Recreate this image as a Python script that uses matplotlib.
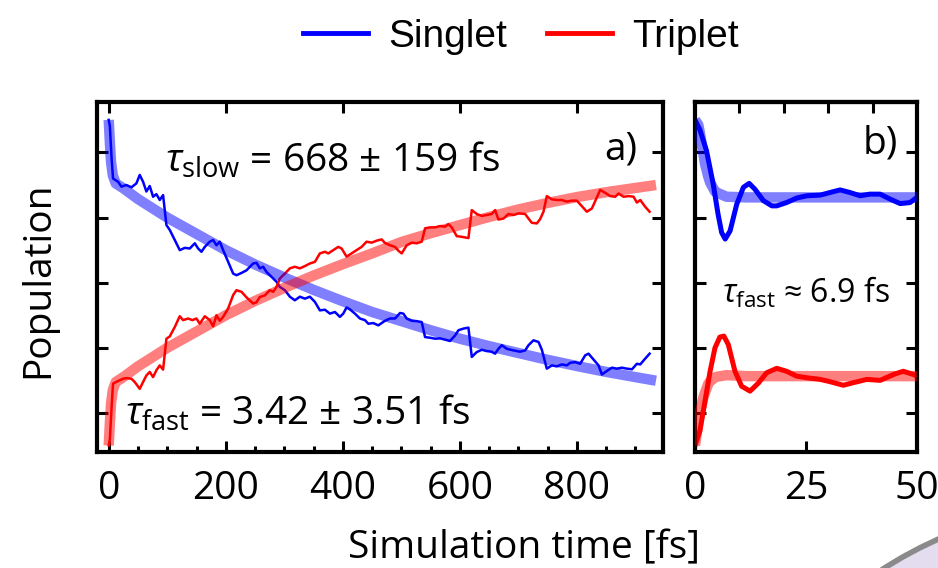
import matplotlib
matplotlib.use("Agg")
import matplotlib.pyplot as plt
from matplotlib.lines import Line2D
from matplotlib.patches import Circle

# ---- data ----
# panel a) long simulation, noisy populations
singlet_t = [0, 2, 5, 7.4, 16.0, 21.7, 30.2, 38.8, 47.3, 53.0, 58.7, 64.4, 70.1, 75.8,
             81.5, 87.2, 92.9, 98.6, 104.3, 112.9, 121.4, 130.0, 138.5, 147.1, 152.8,
             158.5, 164.2, 172.7, 178.4, 184.1, 189.8, 195.5, 204.1, 212.6, 218.3, 226.9,
             235.4, 246.8, 252.5, 258.2, 263.9, 269.6, 281, 286.7, 292.4, 301, 309.5, 318,
             326.6, 335.2, 343.7, 352.3, 360.8, 369.4, 377.9, 386.5, 395, 400.7, 406.4,
             412.1, 420.7, 429.2, 437.8, 443.5, 452, 460.6, 472, 480.6, 489.2, 497.7,
             503.4, 509.1, 517.7, 526, 534.8, 540.5, 549, 557.6, 566.1, 574.7, 583.2,
             591.8, 597.5, 606, 614.6, 620.3, 628.8, 637.4, 645.9, 654, 660.2, 665.9,
             671.6, 680.1, 691.5, 702.9, 711.5, 717.2, 725.7, 734.3, 740, 748.5, 757.1,
             765.6, 774.2, 782.7, 788.4, 797, 805.5, 814.1, 819.8, 828.3, 836.9, 842.6,
             851.1, 859.7, 868.2, 876.8, 885.3, 894, 902.4, 908.1, 916.7, 924.1]
singlet_pop = [1.0, 0.98, 0.88, 0.82, 0.810, 0.795, 0.800, 0.793, 0.805, 0.831, 0.810,
               0.780, 0.797, 0.764, 0.772, 0.754, 0.769, 0.677, 0.662, 0.631, 0.600, 0.607,
               0.605, 0.621, 0.605, 0.595, 0.610, 0.626, 0.631, 0.615, 0.626, 0.600, 0.564,
               0.528, 0.523, 0.530, 0.538, 0.559, 0.561, 0.544, 0.549, 0.533, 0.513, 0.503,
               0.487, 0.477, 0.457, 0.446, 0.457, 0.451, 0.457, 0.441, 0.415, 0.417, 0.405,
               0.410, 0.395, 0.405, 0.424, 0.418, 0.405, 0.390, 0.385, 0.374, 0.376, 0.369,
               0.383, 0.390, 0.390, 0.407, 0.405, 0.390, 0.383, 0.382, 0.379, 0.333, 0.331,
               0.328, 0.329, 0.325, 0.321, 0.338, 0.354, 0.359, 0.362, 0.272, 0.287, 0.294,
               0.290, 0.288, 0.282, 0.297, 0.308, 0.297, 0.292, 0.288, 0.292, 0.308, 0.323,
               0.318, 0.294, 0.236, 0.246, 0.243, 0.249, 0.246, 0.254, 0.256, 0.251, 0.277,
               0.282, 0.264, 0.246, 0.218, 0.229, 0.239, 0.236, 0.239, 0.236, 0.234, 0.251,
               0.249, 0.267, 0.282]

triplet_t = [0, 2, 5, 7.4, 16, 24.5, 31, 38.8, 44.5, 53, 58.7, 64.4, 70.1, 75.8, 81.5,
             87.2, 92.9, 98.6, 104.3, 112.9, 121.4, 127.1, 135.7, 142.8, 149.9, 155.6,
             164.2, 172.7, 178.4, 184.1, 189.8, 195.5, 204.1, 212.6, 218.3, 226.9, 235.4,
             246.8, 252.5, 258.2, 266.8, 275.3, 281, 286.7, 292.4, 301, 309.5, 318, 326.6,
             335.2, 343.7, 352.3, 360.8, 369.4, 375.1, 383.6, 392.2, 397.9, 406.4, 415,
             423.5, 432.1, 440.6, 449.2, 457.7, 466.3, 472, 480.6, 489.2, 495, 500.6, 509.1,
             517.7, 526.2, 534.8, 540.5, 549, 557.6, 566.1, 574.7, 580.4, 586.1, 594.6,
             603.2, 614.6, 620.3, 628.8, 637.4, 645.9, 654.5, 660.2, 665.9, 674.4, 683,
             691.5, 700.1, 711.5, 717.2, 722.9, 731.4, 737, 742.8, 748.5, 757.1, 765.6,
             774.2, 782.7, 791, 799.8, 808.4, 816.9, 825.5, 834, 839.7, 848.3, 856.8, 865.4,
             871.1, 879.6, 888.2, 896.7, 902.4, 908.1, 916.7, 924.1]
triplet_pop = [0.0, 0.02, 0.12, 0.19, 0.198, 0.205, 0.207, 0.205, 0.195, 0.174, 0.195,
               0.215, 0.226, 0.210, 0.231, 0.246, 0.233, 0.328, 0.335, 0.364, 0.397, 0.385,
               0.390, 0.385, 0.390, 0.374, 0.397, 0.385, 0.366, 0.400, 0.383, 0.395, 0.421,
               0.462, 0.477, 0.472, 0.455, 0.436, 0.440, 0.456, 0.461, 0.477, 0.472, 0.487,
               0.513, 0.528, 0.544, 0.549, 0.544, 0.551, 0.559, 0.564, 0.590, 0.595, 0.590,
               0.600, 0.610, 0.605, 0.580, 0.590, 0.600, 0.610, 0.626, 0.623, 0.629, 0.633,
               0.622, 0.615, 0.610, 0.598, 0.590, 0.615, 0.623, 0.621, 0.626, 0.667, 0.670,
               0.670, 0.674, 0.672, 0.680, 0.670, 0.643, 0.641, 0.637, 0.723, 0.711, 0.705,
               0.708, 0.711, 0.723, 0.694, 0.697, 0.711, 0.708, 0.713, 0.711, 0.697, 0.684,
               0.682, 0.695, 0.718, 0.766, 0.756, 0.754, 0.754, 0.749, 0.752, 0.752, 0.735,
               0.718, 0.728, 0.762, 0.785, 0.776, 0.766, 0.764, 0.774, 0.764, 0.766, 0.764,
               0.746, 0.754, 0.733, 0.718]

# panel a) bi-exponential fits
fit_t = [0, 2, 4, 7, 12, 25, 50, 100, 150, 200, 250, 300, 350, 400, 450, 500, 550, 600,
         650, 700, 750, 800, 850, 900, 935]
singlet_fit = [1.0, 0.93, 0.87, 0.83, 0.805, 0.79, 0.757, 0.70, 0.65, 0.60, 0.556, 0.516,
               0.478, 0.443, 0.41, 0.382, 0.354, 0.328, 0.305, 0.284, 0.263, 0.244, 0.226,
               0.21, 0.199]
triplet_fit = [0.0, 0.07, 0.13, 0.17, 0.195, 0.21, 0.243, 0.30, 0.35, 0.40, 0.444, 0.484,
               0.522, 0.557, 0.59, 0.625, 0.652, 0.677, 0.702, 0.725, 0.745, 0.763, 0.778,
               0.791, 0.80]

# panel b) first 50 fs
short_t = [0, 1.1, 2.6, 4.1, 5.2, 6.0, 6.8, 7.9, 9.4, 10.9, 12.2, 13.5, 15.4, 17.3, 18.4,
           20.6, 22.9, 25.2, 28.2, 30.4, 32.7, 34.9, 37.2, 39.4, 41.7, 43.9, 46.2, 48.4, 50]
short_singlet = [1.0, 0.97, 0.905, 0.803, 0.71, 0.654, 0.634, 0.659, 0.741, 0.793, 0.805,
                 0.787, 0.752, 0.736, 0.736, 0.746, 0.76, 0.767, 0.769, 0.777, 0.785,
                 0.777, 0.767, 0.772, 0.772, 0.757, 0.743, 0.746, 0.762]
short_t_trip = [0, 1.1, 2.25, 3.4, 4.5, 5.6, 6.5, 7.5, 9.0, 10.5, 12.4, 14.3, 16.1, 18.4,
                20.6, 22.9, 25.2, 28.2, 30.4, 33.4, 35.7, 38.7, 41.7, 44.7, 46.9, 49.2, 50]
short_triplet = [0.0, 0.045, 0.136, 0.228, 0.30, 0.333, 0.336, 0.31, 0.228, 0.182, 0.167,
                 0.192, 0.223, 0.237, 0.228, 0.213, 0.208, 0.203, 0.196, 0.185, 0.193,
                 0.203, 0.20, 0.218, 0.228, 0.218, 0.213]
short_fit_t = [0, 0.75, 1.1, 1.9, 2.25, 3.0, 3.4, 4.5, 4.9, 7.1, 11.6, 25, 50]
short_singlet_fit = [1.0, 0.985, 0.96, 0.895, 0.865, 0.825, 0.808, 0.78, 0.777, 0.764,
                     0.762, 0.762, 0.762]
short_triplet_fit = [0.0, 0.07, 0.10, 0.148, 0.162, 0.19, 0.197, 0.209, 0.211, 0.216,
                     0.213, 0.213, 0.213]

SANS = "Open Sans"
plt.rcParams["font.family"] = SANS
plt.rcParams["mathtext.fontset"] = "custom"
plt.rcParams["mathtext.rm"] = SANS
plt.rcParams["mathtext.it"] = SANS + ":italic"

BLUE = "#0000ff"
RED = "#ff0000"
FS = 28

fig = plt.figure(figsize=(9.38, 5.68), dpi=100)

# faint slide decoration in the bottom-right corner
fig.patches.append(Circle((1100, 568 - 905), 400, transform=None, facecolor="#e4dcef",
                          edgecolor="#8a8a8a", linewidth=4, zorder=0))

ax_a = fig.add_axes([97 / 938, 1 - 452 / 568, 566 / 938, 350 / 568])
ax_b = fig.add_axes([695 / 938, 1 - 452 / 568, 222 / 938, 350 / 568])

for ax in (ax_a, ax_b):
    ax.set_facecolor("white")
    ax.set_ylim(-0.02, 1.055)
    ax.set_yticks([0.1, 0.3, 0.5, 0.7, 0.9])
    ax.set_yticklabels([])
    for sp in ax.spines.values():
        sp.set_linewidth(3)
    ax.tick_params(which="major", direction="in", length=8, width=2.2, right=True,
                   labelsize=FS, pad=13)
    ax.tick_params(which="minor", direction="in", length=4, width=2.2)

# panel a
ax_a.plot(singlet_t, singlet_pop, color=BLUE, lw=1.8, zorder=2)
ax_a.plot(triplet_t, triplet_pop, color=RED, lw=1.8, zorder=2)
ax_a.plot(fit_t, singlet_fit, color=BLUE, lw=7.5, alpha=0.5, zorder=3,
          solid_capstyle="butt")
ax_a.plot(fit_t, triplet_fit, color=RED, lw=7.5, alpha=0.5, zorder=3,
          solid_capstyle="butt")
ax_a.set_xlim(-20, 947)
ax_a.set_xticks([0, 200, 400, 600, 800])
ax_a.set_xticks(range(50, 950, 50), minor=True)
ax_a.tick_params(which="major", top=True)
ax_a.tick_params(which="minor", top=False)

ax_a.text(96, 0.84, r"$\tau_{\mathrm{slow}}$ = 668 ± 159 fs", fontsize=FS, va="baseline")
ax_a.text(27, 0.065, r"$\tau_{\mathrm{fast}}$ = 3.42 ± 3.51 fs", fontsize=FS,
          va="baseline")
ax_a.text(903, 0.877, "a)", fontsize=FS, ha="right", va="baseline")

# panel b
ax_b.plot(short_t, short_singlet, color=BLUE, lw=3.6, zorder=2)
ax_b.plot(short_t_trip, short_triplet, color=RED, lw=3.6, zorder=2)
ax_b.plot(short_fit_t, short_singlet_fit, color=BLUE, lw=7.5, alpha=0.5, zorder=3,
          solid_capstyle="butt")
ax_b.plot(short_fit_t, short_triplet_fit, color=RED, lw=7.5, alpha=0.5, zorder=3,
          solid_capstyle="butt")
ax_b.set_xlim(0, 50)
ax_b.set_xticks([0, 25, 50])
ax_b.tick_params(top=False)
top_b = ax_b.secondary_xaxis("top")
top_b.set_xticks([10, 20, 30, 40])
top_b.set_xticklabels([])
top_b.tick_params(direction="in", length=8, width=2.2)
top_b.spines["top"].set_linewidth(3)

ax_b.text(6.0, 0.44, r"$\tau_{\mathrm{fast}}$ ≈ 6.9 fs", fontsize=23, va="baseline")
ax_b.text(45.7, 0.898, "b)", fontsize=FS, ha="right", va="baseline")

fig.text(38 / 938, 1 - 280 / 568, "Population", fontsize=FS, rotation=90,
         ha="center", va="center")
fig.text(524 / 938, 1 - 548 / 568, "Simulation time [fs]", fontsize=FS,
         ha="center", va="center")

handles = [Line2D([], [], color=BLUE, lw=3.5), Line2D([], [], color=RED, lw=3.5)]
fig.legend(handles, ["Singlet", "Triplet"], loc="center", ncol=2,
           bbox_to_anchor=(521 / 938, 1 - 37 / 568), frameon=False,
           prop={"family": "Liberation Sans", "size": FS}, handlelength=1.66,
           handletextpad=0.52, columnspacing=1.04)

fig.savefig("out.png", dpi=100, facecolor="white")
